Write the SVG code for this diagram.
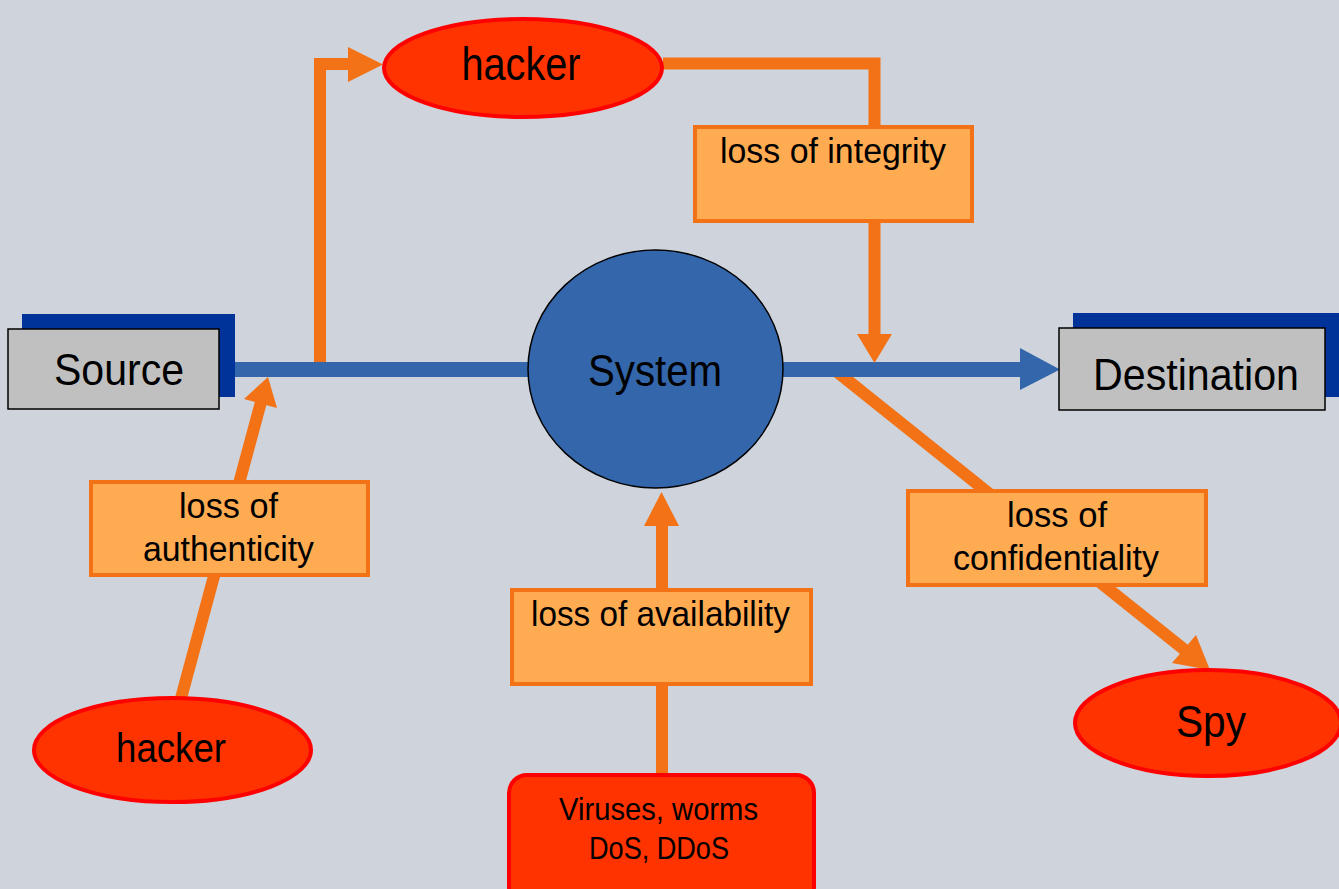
<svg xmlns="http://www.w3.org/2000/svg" width="1339" height="889" viewBox="0 0 1339 889">
  <style>
    text { font-family: "Liberation Sans Narrow", "Arial Narrow", "Liberation Sans", sans-serif; fill: #000; text-anchor: middle; }
    .flow { fill: none; stroke: #3366AA; stroke-width: 15; }
    .threat { fill: none; stroke: #F47216; stroke-width: 12; stroke-linejoin: miter; }
    .head-o { fill: #F47216; }
    .head-b { fill: #3366AA; }
    .shadow { fill: #003399; }
    .endpoint { fill: #C0C0C0; stroke: #000; stroke-width: 1.5; }
    .agent { fill: #FF3300; stroke: #FF0000; stroke-width: 4; }
    .label { fill: #FFAB52; stroke: #F47216; stroke-width: 4; }
    .big { font-size: 45px; }
    .mid { font-size: 35px; }
    .small { font-size: 32px; }
  </style>

  <rect width="1339" height="889" fill="#CFD3DB"/>

  <g id="connectors">
    <!-- confidentiality leak: system output towards the spy -->
    <line class="threat" x1="836" y1="371" x2="1186" y2="651" stroke-width="13"/>
    <polygon class="head-o" points="1210,670 1172,663 1196,635"/>

    <!-- main data flow -->
    <line class="flow" x1="235" y1="369.5" x2="530" y2="369.5"/>
    <line class="flow" x1="780" y1="369.5" x2="1022" y2="369.5"/>
    <polygon class="head-b" points="1020,348 1020,390 1060,369.5"/>

    <!-- interception towards the top hacker -->
    <polyline class="threat" points="320,362 320,64 350,64"/>
    <polygon class="head-o" points="348,47 348,82 383,64.5"/>

    <!-- modification back into the flow -->
    <polyline class="threat" points="663,63.5 874.5,63.5 874.5,130"/>
    <line class="threat" x1="874.5" y1="220" x2="874.5" y2="336"/>
    <polygon class="head-o" points="857,334 892,334 874.5,363"/>

    <!-- fabrication from the bottom hacker -->
    <line class="threat" x1="180" y1="702" x2="261" y2="402"/>
    <polygon class="head-o" points="268,377 244,399 277,408"/>

    <!-- interruption of the system -->
    <line class="threat" x1="662" y1="524" x2="662" y2="590" stroke-width="11"/>
    <polygon class="head-o" points="644,526 679,526 661.5,492"/>
    <line class="threat" x1="662" y1="684" x2="662" y2="776" stroke-width="11"/>
  </g>

  <g id="source">
    <rect class="shadow" x="22" y="314" width="213" height="83"/>
    <rect class="endpoint" x="8" y="329" width="211" height="80"/>
    <text class="big" x="119" y="385" textLength="130" lengthAdjust="spacingAndGlyphs">Source</text>
  </g>

  <g id="destination">
    <rect class="shadow" x="1073" y="313" width="270" height="84"/>
    <rect class="endpoint" x="1059" y="328" width="266" height="82"/>
    <text class="big" x="1196" y="390" textLength="206" lengthAdjust="spacingAndGlyphs">Destination</text>
  </g>

  <g id="system">
    <ellipse cx="655.5" cy="369" rx="127.5" ry="119" fill="#3366AA" stroke="#000" stroke-width="1.5"/>
    <text class="big" x="655" y="386" textLength="134" lengthAdjust="spacingAndGlyphs">System</text>
  </g>

  <g id="hacker-top">
    <ellipse class="agent" cx="523" cy="68" rx="139" ry="49"/>
    <text x="521" y="80" font-size="47" textLength="119" lengthAdjust="spacingAndGlyphs">hacker</text>
  </g>

  <g id="hacker-bottom">
    <ellipse class="agent" cx="172.5" cy="750" rx="138.5" ry="52"/>
    <text x="171" y="762" font-size="41" textLength="110" lengthAdjust="spacingAndGlyphs">hacker</text>
  </g>

  <g id="spy">
    <ellipse class="agent" cx="1208" cy="723" rx="133" ry="53"/>
    <text class="big" x="1211" y="737" textLength="70" lengthAdjust="spacingAndGlyphs">Spy</text>
  </g>

  <g id="malware">
    <rect class="agent" x="509" y="775" width="305" height="130" rx="18"/>
    <text class="small" x="658.5" y="820" textLength="199" lengthAdjust="spacingAndGlyphs">Viruses, worms</text>
    <text class="small" x="659" y="859" textLength="140" lengthAdjust="spacingAndGlyphs">DoS, DDoS</text>
  </g>

  <g id="loss-integrity">
    <rect class="label" x="695" y="127" width="277" height="94"/>
    <text class="mid" x="833" y="163" textLength="226" lengthAdjust="spacingAndGlyphs">loss of integrity</text>
  </g>

  <g id="loss-authenticity">
    <rect class="label" x="91" y="482" width="277" height="93"/>
    <text class="mid" x="228.5" y="518" textLength="99" lengthAdjust="spacingAndGlyphs">loss of</text>
    <text class="mid" x="228.5" y="561" textLength="171" lengthAdjust="spacingAndGlyphs">authenticity</text>
  </g>

  <g id="loss-availability">
    <rect class="label" x="512" y="590" width="299" height="94"/>
    <text class="mid" x="660.5" y="626" textLength="259" lengthAdjust="spacingAndGlyphs">loss of availability</text>
  </g>

  <g id="loss-confidentiality">
    <rect class="label" x="908" y="491" width="298" height="94"/>
    <text class="mid" x="1057" y="527" textLength="100" lengthAdjust="spacingAndGlyphs">loss of</text>
    <text class="mid" x="1056" y="570" textLength="206" lengthAdjust="spacingAndGlyphs">confidentiality</text>
  </g>
</svg>
